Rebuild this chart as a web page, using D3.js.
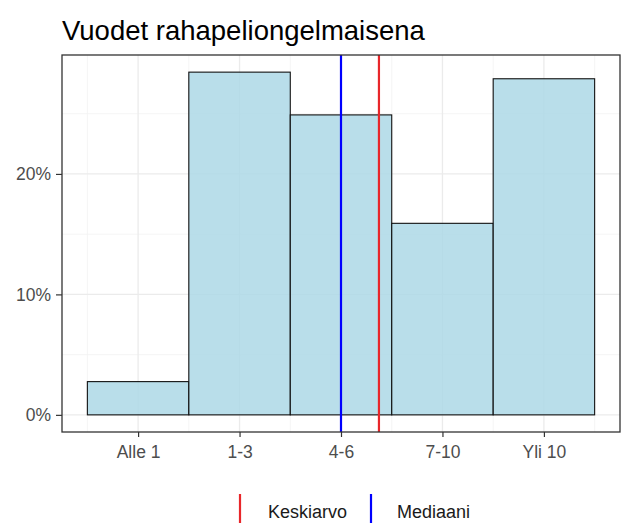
<!DOCTYPE html>
<html>
<head>
<meta charset="utf-8">
<script src="https://cdn.jsdelivr.net/npm/d3@7"></script>
<style>
body { margin: 0; background: #fff; }
text { font-family: "Liberation Sans", Arial, sans-serif; }
</style>
</head>
<body>
<script>
// data
var categories = ["Alle 1", "1-3", "4-6", "7-10", "Yli 10"];
var shares = [0.0276, 0.2845, 0.249, 0.159, 0.279];
var refLines = [
	{ name: "Keskiarvo", value: 3.374, colour: "#e8262a" },
	{ name: "Mediaani", value: 3.0, colour: "#0000ff" }
];
var yTicks = [0, 0.1, 0.2];
var yMinor = [0.05, 0.15, 0.25];

var W = 621, H = 523;
var panel = { left: 62, right: 620, top: 55, bottom: 432 };
var font = "'Liberation Sans', Arial, sans-serif";

var svg = d3.select("body").append("svg")
	.attr("width", W)
	.attr("height", H);

var x = d3.scaleLinear()
	.domain([0.25, 5.75])
	.range([panel.left, panel.right]);

var ymax = d3.max(shares);
var y = d3.scaleLinear()
	.domain([-ymax * 0.05, ymax * 1.05])
	.range([panel.bottom, panel.top]);

// panel background + grid
svg.append("rect")
	.attr("x", panel.left).attr("y", panel.top)
	.attr("width", panel.right - panel.left)
	.attr("height", panel.bottom - panel.top)
	.attr("fill", "#fff");

var grid = svg.append("g");
grid.selectAll(".minor-y")
	.data(yMinor)
	.enter().append("line")
	.attr("x1", panel.left).attr("x2", panel.right)
	.attr("y1", d => y(d)).attr("y2", d => y(d))
	.attr("stroke", "#f2f2f2").attr("stroke-width", 0.8);
grid.selectAll(".minor-x")
	.data(d3.range(0.5, 6, 1))
	.enter().append("line")
	.attr("y1", panel.top).attr("y2", panel.bottom)
	.attr("x1", d => x(d)).attr("x2", d => x(d))
	.attr("stroke", "#f2f2f2").attr("stroke-width", 0.8);
grid.selectAll(".major-y")
	.data(yTicks)
	.enter().append("line")
	.attr("x1", panel.left).attr("x2", panel.right)
	.attr("y1", d => y(d)).attr("y2", d => y(d))
	.attr("stroke", "#ebebeb").attr("stroke-width", 1.3);
grid.selectAll(".major-x")
	.data(d3.range(1, 6))
	.enter().append("line")
	.attr("y1", panel.top).attr("y2", panel.bottom)
	.attr("x1", d => x(d)).attr("x2", d => x(d))
	.attr("stroke", "#ebebeb").attr("stroke-width", 1.3);

// bars
svg.append("g").selectAll("rect")
	.data(shares)
	.enter().append("rect")
	.attr("x", (d, i) => x(i + 0.5))
	.attr("width", x(1.5) - x(0.5))
	.attr("y", d => y(d))
	.attr("height", d => y(0) - y(d))
	.attr("fill", "#add8e6")
	.attr("fill-opacity", 0.85)
	.attr("stroke", "#111")
	.attr("stroke-width", 1.1);

// reference lines
svg.append("g").selectAll("line")
	.data(refLines)
	.enter().append("line")
	.attr("x1", d => x(d.value)).attr("x2", d => x(d.value))
	.attr("y1", panel.top).attr("y2", panel.bottom)
	.attr("stroke", d => d.colour)
	.attr("stroke-width", 2.2);

// panel border
svg.append("rect")
	.attr("x", panel.left).attr("y", panel.top)
	.attr("width", panel.right - panel.left)
	.attr("height", panel.bottom - panel.top)
	.attr("fill", "none")
	.attr("stroke", "#333").attr("stroke-width", 1.3);

// axes
var yAxis = d3.axisLeft(y)
	.tickValues(yTicks)
	.tickFormat(d3.format(".0%"))
	.tickSize(6)
	.tickPadding(5);
var yAxisElem = svg.append("g")
	.attr("transform", "translate(" + panel.left + ",0)")
	.call(yAxis);
yAxisElem.select(".domain").remove();
yAxisElem.selectAll("line").attr("stroke", "#333").attr("stroke-width", 1.2);
yAxisElem.selectAll("text")
	.attr("fill", "#4d4d4d")
	.style("font-size", "17.5px")
	.style("font-family", font);

var xAxis = d3.axisBottom(x)
	.tickValues(d3.range(1, 6))
	.tickFormat(d => categories[d - 1])
	.tickSize(5)
	.tickPadding(9);
var xAxisElem = svg.append("g")
	.attr("transform", "translate(0," + panel.bottom + ")")
	.call(xAxis);
xAxisElem.select(".domain").remove();
xAxisElem.selectAll("line").attr("stroke", "#333").attr("stroke-width", 1.2);
xAxisElem.selectAll("text")
	.attr("fill", "#4d4d4d")
	.style("font-size", "17.5px")
	.style("font-family", font);

// title
svg.append("text")
	.attr("x", panel.left)
	.attr("y", 40)
	.style("font-size", "27.5px")
	.attr("fill", "#000")
	.text("Vuodet rahapeliongelmaisena");

// legend
var legendX = [240, 371];
var legend = svg.append("g").selectAll("g")
	.data(refLines)
	.enter().append("g")
	.attr("transform", (d, i) => "translate(" + legendX[i] + ",0)");
legend.append("line")
	.attr("x1", 0).attr("x2", 0)
	.attr("y1", 494).attr("y2", 530)
	.attr("stroke", d => d.colour)
	.attr("stroke-width", 2.2);
legend.append("text")
	.attr("x", (d, i) => i === 0 ? 28 : 26)
	.attr("y", 518)
	.style("font-size", "18px")
	.attr("fill", "#1a1a1a")
	.text(d => d.name);
</script>
</body>
</html>
